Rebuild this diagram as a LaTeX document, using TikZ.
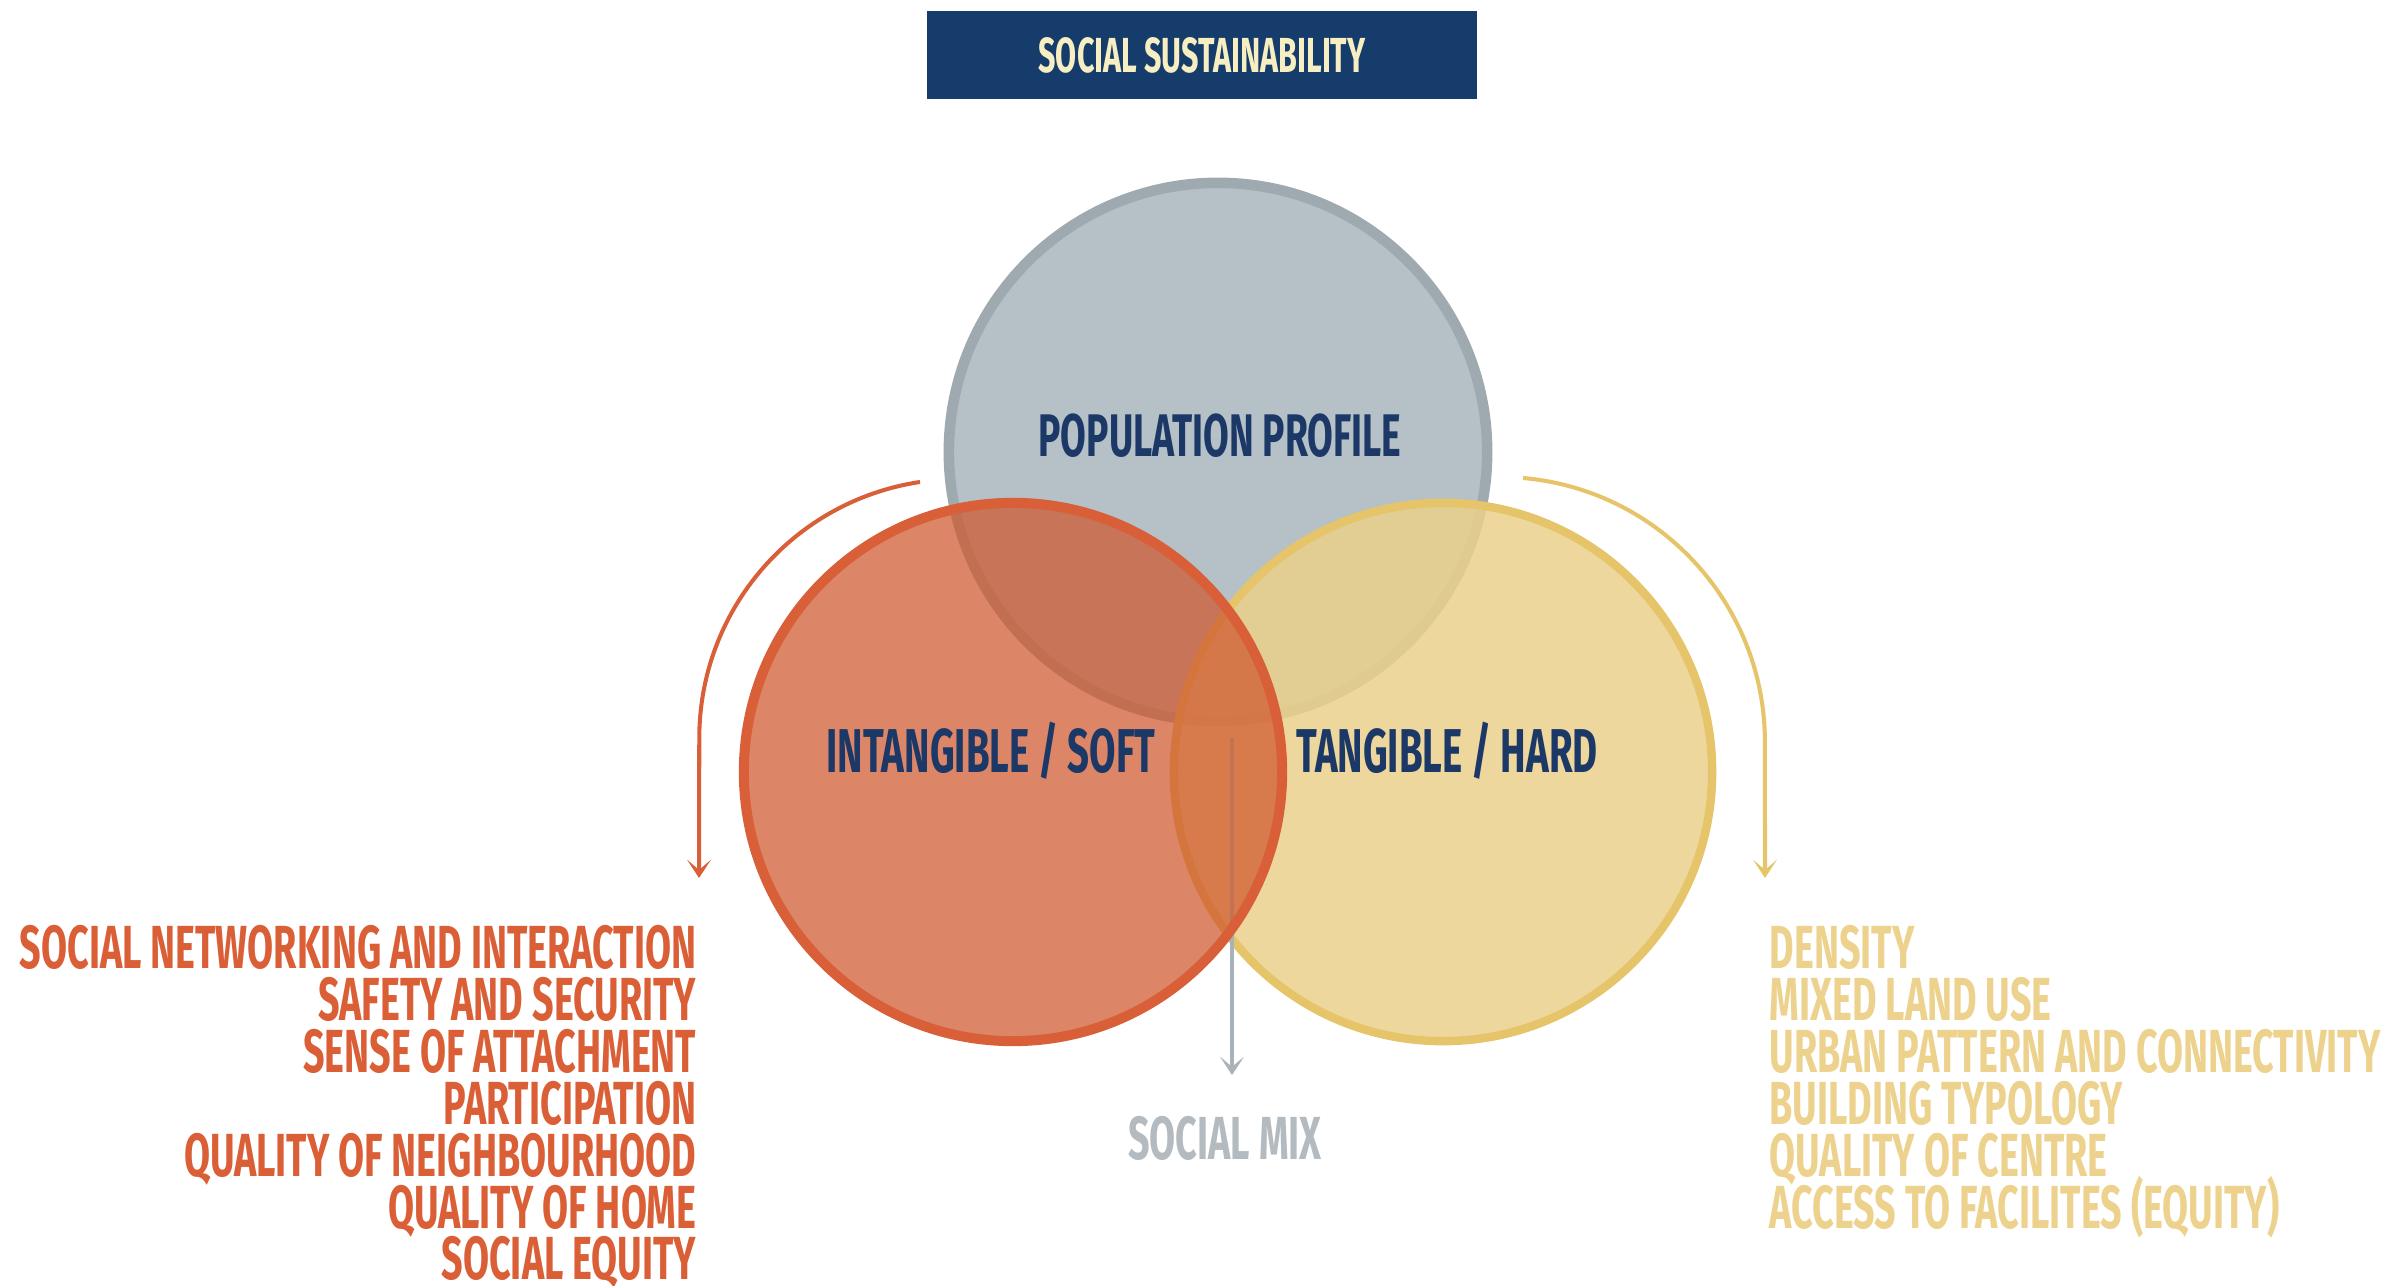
\documentclass[tikz,border=0pt]{standalone}
\usepackage{fontspec}
\usetikzlibrary{arrows.meta}
\newfontfamily\bebas{Fira Sans}[FakeStretch=0.62]
\newcommand\bb[1]{\bebas\bfseries\fontsize{#1}{#1}\selectfont}
\definecolor{navy}{HTML}{163C6B}
\definecolor{textnavy}{HTML}{1B3866}
\definecolor{cream}{HTML}{F7EFC2}
\definecolor{topfill}{HTML}{B5C0C7}
\definecolor{topdraw}{HTML}{9EAAB0}
\definecolor{lfill}{HTML}{CF592F}
\definecolor{ldraw}{HTML}{D95F38}
\definecolor{rfill}{HTML}{EBD08B}
\definecolor{rdraw}{HTML}{E6C469}
\definecolor{grayarrow}{HTML}{A7B3B9}
\definecolor{listorange}{HTML}{DA5F36}
\definecolor{listyellow}{HTML}{EDD28E}
\definecolor{mixgray}{HTML}{B3BBC0}
\tikzset{
  lab/.style={inner sep=0pt, text=textnavy, font=\bb{17.6}},
  listL/.style={inner sep=0pt, anchor=base east, text=listorange, font=\bb{17.3}},
  listR/.style={inner sep=0pt, anchor=base west, text=listyellow, font=\bb{17.3}},
  flow/.style={line width=1.15pt, -{Stealth[length=5.2pt,width=6.8pt,inset=2.9pt]}},
  venn/.style={circle, inner sep=0pt, minimum size=5.38cm}
}
\begin{document}
\begin{tikzpicture}[x=0.01cm, y=-0.01cm]
\useasboundingbox (0,0) rectangle (2402,1286);
% title
\node[fill=navy, minimum width=5.49cm, minimum height=0.88cm, inner sep=0pt,
      text=cream, font=\bb{14}] (title) at (1202,55) {SOCIAL SUSTAINABILITY};
% circles
\node[venn, fill=topfill, draw=topdraw, line width=3pt] (top) at (1218,452) {};
\node[venn, fill=rfill, fill opacity=0.85, draw=rdraw, line width=2.4pt] (right) at (1443,772) {};
\coordinate (gstart) at (1232,738);
\coordinate (gtip) at (1232,1075);
\draw[flow, grayarrow] (gstart) -- (gtip);
\node[venn, fill=lfill, fill opacity=0.73, draw=ldraw, line width=2.85pt] (left) at (1013,772) {};
% circle labels
\node[lab, anchor=base, font=\bb{17.1}] (pp) at (1220,457) {POPULATION PROFILE};
\node[lab, anchor=base] (soft) at (991,773) {INTANGIBLE / SOFT};
\node[lab, anchor=base] (hard) at (1447,773) {TANGIBLE / HARD};
\node[inner sep=0pt, anchor=base, text=mixgray, font=\bb{17.3}] (mix) at (1225,1160) {SOCIAL MIX};
% side arrows
\coordinate (lstart) at (920,482);
\coordinate (ltip) at (699,878);
\draw[flow, ldraw] (lstart) arc[start angle=261.5, end angle=180, radius=259] -- (ltip);
\coordinate (rstart) at (1523,478);
\coordinate (rtip) at (1765,878);
\draw[flow, rdraw] (rstart) arc[start angle=275, end angle=360, radius=265] -- (rtip);
% left list
\node[listL] (l1) at (697,969) {SOCIAL NETWORKING AND INTERACTION};
\node[listL] (l2) at (697,1021) {SAFETY AND SECURITY};
\node[listL] (l3) at (697,1073) {SENSE OF ATTACHMENT};
\node[listL] (l4) at (697,1125) {PARTICIPATION};
\node[listL] (l5) at (697,1177) {QUALITY OF NEIGHBOURHOOD};
\node[listL] (l6) at (697,1229) {QUALITY OF HOME};
\node[listL] (l7) at (697,1280) {SOCIAL EQUITY};
% right list
\node[listR] (r1) at (1769,969) {DENSITY};
\node[listR] (r2) at (1769,1021) {MIXED LAND USE};
\node[listR] (r3) at (1769,1073) {URBAN PATTERN AND CONNECTIVITY};
\node[listR] (r4) at (1769,1125) {BUILDING TYPOLOGY};
\node[listR] (r5) at (1769,1177) {QUALITY OF CENTRE};
\node[listR] (r6) at (1769,1229) {ACCESS TO FACILITES (EQUITY)};
\end{tikzpicture}
\end{document}
